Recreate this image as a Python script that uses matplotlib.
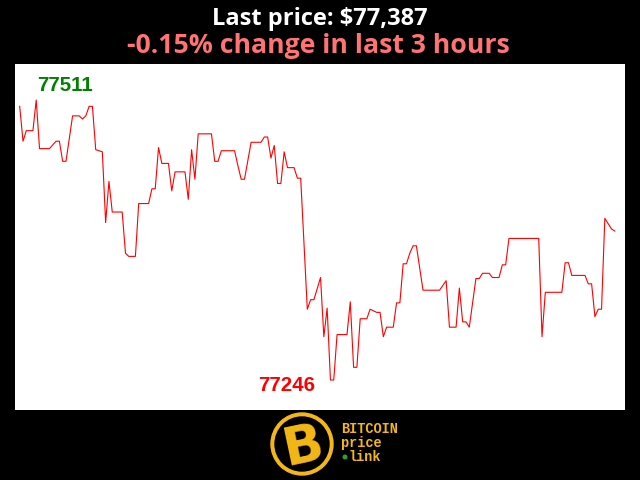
import matplotlib
matplotlib.use("Agg")
import matplotlib.pyplot as plt
from matplotlib.patches import Circle

# price over the last 3 hours, only the corner points of the line (minute, price)
minutes = [0, 1, 2, 4, 5, 6, 9, 11, 12, 13, 14, 16, 18, 19, 20, 21, 22, 23, 25, 26,
           27, 28, 31, 32, 33, 35, 36, 39, 40, 41, 42, 43, 45, 46, 47, 50, 51, 52, 53, 54,
           58, 59, 60, 61, 65, 66, 67, 68, 70, 73, 74, 75, 76, 77, 78, 79, 80, 81, 83, 84,
           85, 87, 88, 89, 91, 92, 93, 94, 95, 96, 99, 100, 101, 102, 103, 105, 106, 108, 109, 110,
           111, 113, 114, 115, 116, 117, 118, 119, 120, 122, 127, 129, 130, 132, 133, 134, 135, 136, 138, 139,
           140, 142, 143, 145, 146, 147, 148, 157, 158, 159, 164, 165, 166, 167, 171, 172, 173, 174, 175, 176,
           177, 179, 180]
prices = [77505, 77472, 77482, 77482, 77511, 77465, 77465, 77472, 77472, 77453, 77453, 77496, 77496, 77493, 77496, 77505, 77505, 77464, 77462, 77395,
          77434, 77405, 77405, 77366, 77363, 77363, 77413, 77413, 77427, 77427, 77466, 77451, 77451, 77425, 77443, 77443, 77417, 77464, 77436, 77479,
          77479, 77453, 77453, 77463, 77463, 77449, 77436, 77436, 77471, 77471, 77476, 77476, 77456, 77468, 77432, 77432, 77462, 77447, 77447, 77437,
          77437, 77313, 77322, 77322, 77343, 77287, 77314, 77246, 77246, 77289, 77289, 77320, 77258, 77258, 77304, 77304, 77313, 77310, 77310, 77287,
          77296, 77296, 77319, 77319, 77356, 77356, 77366, 77373, 77373, 77331, 77331, 77340, 77296, 77296, 77333, 77301, 77301, 77296, 77342, 77342,
          77347, 77347, 77343, 77343, 77355, 77355, 77380, 77380, 77287, 77329, 77329, 77357, 77357, 77345, 77345, 77337, 77337, 77306, 77313, 77313,
          77399, 77389, 77387]

last_price = "$77,387"
change_text = "-0.15% change in last 3 hours"

hi = max(prices)
lo = min(prices)
i_hi = prices.index(hi)
i_lo = prices.index(lo)

gold = "#f4b816"

fig = plt.figure(figsize=(6.4, 4.8), dpi=100, facecolor="black")

# chart area
ax = fig.add_axes([15 / 640, 70 / 480, 610 / 640, 346 / 480])
ax.set_facecolor("white")
ax.plot(minutes, prices, color="#ff0000", linewidth=0.8)
ax.set_xlim(-1.42, 183.1)
ax.set_ylim(77217.6, 77545.1)
ax.set_xticks([])
ax.set_yticks([])
for s in ax.spines.values():
    s.set_visible(False)

ax.annotate(str(hi), (minutes[i_hi], hi), xytext=(1, 9), textcoords="offset pixels",
            ha="left", va="baseline", color="#008000", fontsize=14.8,
            fontweight="bold", family="Liberation Sans")
ax.annotate(str(lo), (minutes[i_lo], lo), xytext=(-15, -11), textcoords="offset pixels",
            ha="right", va="baseline", color="#ff0000", fontsize=14.8,
            fontweight="bold", family="Liberation Sans")

# overlay in pixel coords for header and logo
top = fig.add_axes([0, 0, 1, 1])
top.set_xlim(0, 640)
top.set_ylim(480, 0)
top.axis("off")

top.text(320, 25, "Last price: " + last_price, color="white", ha="center", va="baseline",
         fontsize=17, fontweight="bold", family="Open Sans")
top.text(318, 53, change_text, color="#ff7373", ha="center", va="baseline",
         fontsize=19.2, fontweight="bold", family="Open Sans")

# logo
top.add_patch(Circle((302, 444), 31, color=gold, zorder=2))
top.add_patch(Circle((302, 444), 27, color="black", zorder=3))
top.text(303, 446, "B", color=gold, ha="center", va="center", fontsize=38,
         fontweight="bold", family="DejaVu Sans", rotation=12, zorder=4)
top.text(341, 429, "BITCOIN", color=gold, ha="left", va="center", fontsize=9.8,
         fontweight="bold", family="Liberation Mono")
top.text(341, 443, "price", color=gold, ha="left", va="center", fontsize=9.8,
         fontweight="bold", family="Liberation Mono")
top.text(349, 457, "link", color=gold, ha="left", va="center", fontsize=9.8,
         fontweight="bold", family="Liberation Mono")
top.add_patch(Circle((345, 457), 1.8, color="#2fa02f", zorder=4))

fig.savefig("out.png", dpi=100, facecolor="black")
